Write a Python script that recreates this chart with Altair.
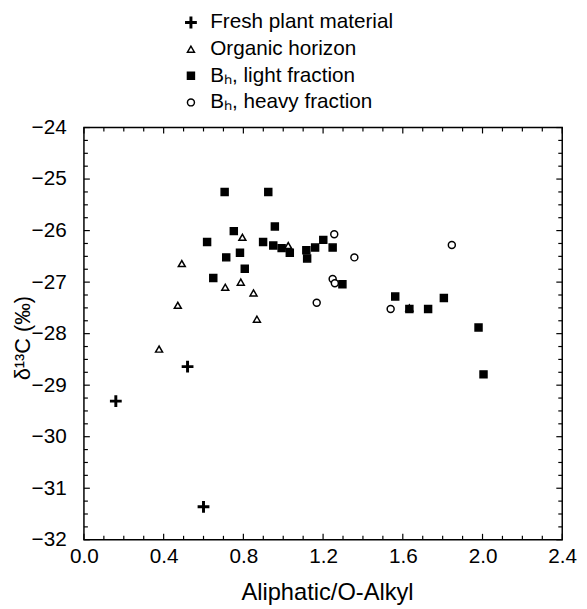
import altair as alt
import pandas as pd

# ---- data ----
series = ["Fresh plant material", "Organic horizon", "Bₕ, light fraction", "Bₕ, heavy fraction"]

fresh_x = [0.16, 0.52, 0.60]
fresh_y = [-29.31, -28.64, -31.36]

org_x = [0.377, 0.471, 0.491, 0.709, 0.787, 0.795, 0.851, 0.868, 1.025, 1.633]
org_y = [-28.30, -27.45, -26.64, -27.10, -27.00, -26.13, -27.21, -27.72, -26.29, -27.50]

light_x = [0.618, 0.649, 0.706, 0.714, 0.752, 0.783, 0.807, 0.899, 0.925, 0.950,
           0.958, 0.992, 1.033, 1.116, 1.120, 1.160, 1.201, 1.248, 1.297, 1.562,
           1.633, 1.727, 1.806, 1.980, 2.005]
light_y = [-26.22, -26.92, -25.25, -26.52, -26.01, -26.43, -26.74, -26.22, -25.25, -26.29,
           -25.92, -26.34, -26.43, -26.38, -26.54, -26.33, -26.18, -26.33, -27.04, -27.28,
           -27.52, -27.52, -27.31, -27.88, -28.79]

heavy_x = [1.168, 1.248, 1.256, 1.259, 1.357, 1.539, 1.846]
heavy_y = [-27.40, -26.94, -26.07, -27.02, -26.52, -27.52, -26.28]

x_major = [0.0, 0.4, 0.8, 1.2, 1.6, 2.0, 2.4]
x_minor = [0.1, 0.2, 0.3, 0.5, 0.6, 0.7, 0.9, 1.0, 1.1, 1.3, 1.4, 1.5,
           1.7, 1.8, 1.9, 2.1, 2.2, 2.3]
y_major = [-32, -31, -30, -29, -28, -27, -26, -25, -24]
y_minor = [-31.75, -31.5, -31.25, -30.75, -30.5, -30.25, -29.75, -29.5, -29.25,
           -28.75, -28.5, -28.25, -27.75, -27.5, -27.25, -26.75, -26.5, -26.25,
           -25.75, -25.5, -25.25, -24.75, -24.5, -24.25]

# ---- table ----
frames = []
for name, xs, ys in [(series[0], fresh_x, fresh_y), (series[1], org_x, org_y),
                     (series[3], heavy_x, heavy_y), (series[2], light_x, light_y)]:
    frames.append(pd.DataFrame({"x": xs, "y": ys, "series": name}))
df = pd.concat(frames, ignore_index=True)

W, H = 485, 418
FONT = "Liberation Sans"
PLUS = "M-1.48,-0.21H-0.21V-1.48H0.21V-0.21H1.48V0.21H0.21V1.48H-0.21V0.21H-1.48Z"

x_scale = alt.Scale(domain=[0, 2.4], nice=False, zero=False)
y_scale = alt.Scale(domain=[-32, -24], nice=False, zero=False)

legend = alt.Legend(
    title=None, orient="none", legendX=98, legendY=-117, padding=0,
    labelFontSize=21, labelFont=FONT, labelColor="black", labelOffset=9,
    symbolSize=50, symbolStrokeWidth=1.5,
    rowPadding=5, labelLimit=400,
)

x_axis = alt.Axis(values=x_major, format=".1f", title="Aliphatic/O-Alkyl",
                  ticks=False, domain=False, grid=False, labelPadding=6, labelFlush=False,
                  labelFontSize=21, titleFontSize=24, titleFontWeight="normal",
                  titleX=W / 2 + 4, titleY=61, titleBaseline="alphabetic", titleAlign="center",
                  labelColor="black", titleColor="black")
y_axis = alt.Axis(values=y_major, format="d", title="δ¹³C (‰)",
                  ticks=False, domain=False, grid=False, labelPadding=18, labelFlush=False,
                  labelFontSize=21, titleFontSize=22, titleFontWeight="normal",
                  titleAngle=270, titleX=-55, titleY=213,
                  titleBaseline="alphabetic", titleAlign="center",
                  labelColor="black", titleColor="black")

points = alt.Chart(df).mark_point(strokeWidth=1.5, size=50, opacity=1).encode(
    x=alt.X("x:Q", scale=x_scale, axis=x_axis),
    y=alt.Y("y:Q", scale=y_scale, axis=y_axis),
    shape=alt.Shape("series:N", scale=alt.Scale(domain=series, range=[PLUS, "triangle-up", "square", "circle"]),
                    legend=legend),
    fill=alt.Fill("series:N", scale=alt.Scale(domain=series, range=["black", "white", "black", "white"]),
                  legend=legend),
    stroke=alt.Stroke("series:N", scale=alt.Scale(domain=series, range=["black", "black", "black", "black"]),
                      legend=legend),
)

layers = [points]
for vals, ln in [(x_major, 6), (x_minor, 4)]:
    d = pd.DataFrame({"x": vals})
    for y0, y1 in [(H, H - ln), (0, ln)]:
        layers.append(alt.Chart(d).mark_rule(color="black", strokeWidth=1.2).encode(
            x=alt.X("x:Q", scale=x_scale, axis=x_axis), y=alt.value(y0), y2=alt.value(y1)))
for vals, ln in [(y_major, 6), (y_minor, 4)]:
    d = pd.DataFrame({"y": vals})
    for x0, x1 in [(0, ln), (W, W - ln)]:
        layers.append(alt.Chart(d).mark_rule(color="black", strokeWidth=1.2).encode(
            y=alt.Y("y:Q", scale=y_scale, axis=y_axis), x=alt.value(x0), x2=alt.value(x1)))

chart = alt.layer(*layers).properties(
    width=W, height=H,
    autosize=alt.AutoSizeParams(type="none"),
    padding={"left": 77, "top": 117, "right": 17, "bottom": 66},
).configure(font=FONT).configure_view(stroke="black", strokeWidth=1.5)

chart.save("out.html", embed_options={"renderer": "svg", "actions": False})
